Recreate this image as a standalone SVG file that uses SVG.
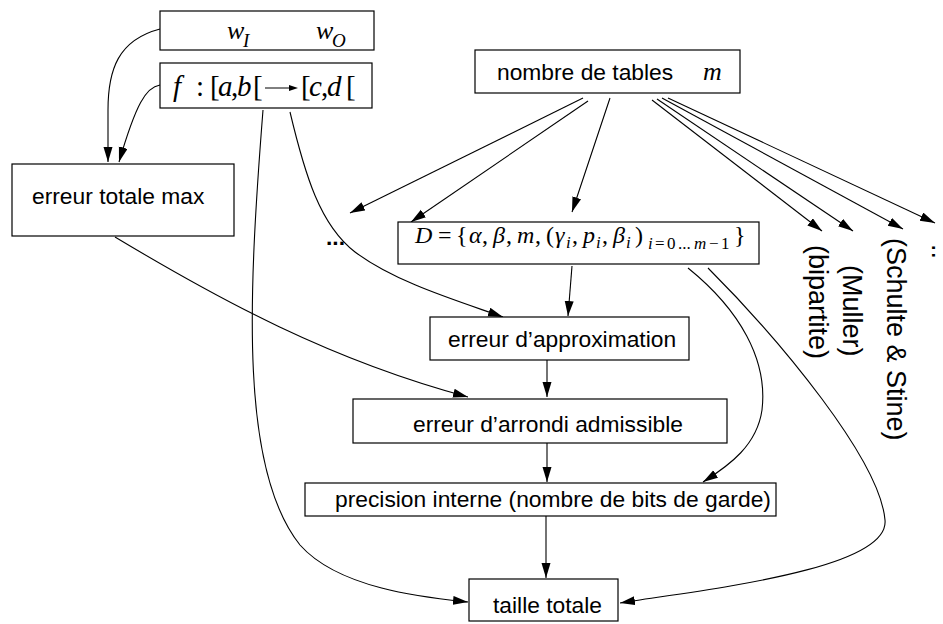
<svg xmlns="http://www.w3.org/2000/svg" width="943" height="624" viewBox="0 0 943 624">
<defs>
<marker id="ah" markerUnits="userSpaceOnUse" markerWidth="16" markerHeight="10" refX="15" refY="4.5" orient="auto">
<path d="M0,0 L15,4.5 L0,9 z" fill="#000"/>
</marker>
<style>
.box{fill:#fff;stroke:#000;stroke-width:1.2}
.lbl{font-family:"Liberation Sans",Arial,sans-serif;font-size:22.8px;fill:#000}
.rot{font-family:"Liberation Sans",Arial,sans-serif;font-size:27px;fill:#000}
.m{font-family:"Liberation Serif","Times New Roman",serif;fill:#000}
.it{font-style:italic}
.s{font-size:17px}
.c{fill:none;stroke:#000;stroke-width:1.1;marker-end:url(#ah)}
</style>
</defs>
<rect width="943" height="624" fill="#fff"/>
<g id="connectors">
<path class="c" d="M160,29 C118,40 108,70 108,110 L108,162"/>
<path class="c" d="M160,85 C146,87 136,104 119,162"/>
<path class="c" d="M115,237 C220,300 330,360 468,397"/>
<path class="c" d="M263,110 C248,300 240,470 300,545 C340,590 430,598 468,602"/>
<path class="c" d="M290,112 C305,175 320,225 355,252 C395,282 455,300 503,317"/>
<path class="c" d="M583,98 L350,213"/>
<path class="c" d="M588,101 L411,222"/>
<path class="c" d="M610,98 L572,212"/>
<path class="c" d="M652,100 L822,231"/>
<path class="c" d="M657,99 L853,231"/>
<path class="c" d="M662,98 L903,229"/>
<path class="c" d="M668,98 L935,223"/>
<path class="c" d="M572,266 L568,316"/>
<path class="c" d="M547,360 L547,397"/>
<path class="c" d="M547,443 L547,482"/>
<path class="c" d="M546,516 L546,578"/>
<path class="c" d="M688,268 C740,310 768,360 762,410 C757,445 730,465 703,482"/>
<path class="c" d="M708,268 C780,340 880,460 885,520 C890,570 700,590 620,603"/>
</g>
<g id="n-w">
<rect class="box" x="160" y="11" width="214" height="39"/>
<text class="m it" x="227" y="39" font-size="26">w</text>
<text class="m it" x="243" y="47" font-size="19">I</text>
<text class="m it" x="316" y="39" font-size="26">w</text>
<text class="m it" x="332" y="47" font-size="19">O</text>
</g>
<g id="n-f">
<rect class="box" x="160" y="63" width="212" height="45"/>
<text class="m" font-size="29" y="96"><tspan class="it" x="173">f</tspan><tspan x="196">:</tspan><tspan x="210">[</tspan><tspan class="it" x="218">a</tspan><tspan x="231">,</tspan><tspan class="it" x="237">b</tspan><tspan x="253">[</tspan></text>
<text class="m" font-size="29" y="96"><tspan x="301">[</tspan><tspan class="it" x="309">c</tspan><tspan x="321">,</tspan><tspan class="it" x="327">d</tspan><tspan x="346">[</tspan></text>
<line x1="265" y1="88" x2="292" y2="88" stroke="#000" stroke-width="1"/>
<path d="M289,85 L298,88 L289,91 z" fill="#000"/>
</g>
<g id="n-tables">
<rect class="box" x="475" y="50" width="265" height="43"/>
<text class="lbl" x="497" y="80">nombre de tables</text>
<text class="m it" x="703" y="80" font-size="26">m</text>
</g>
<g id="n-totale">
<rect class="box" x="12" y="164" width="222" height="72"/>
<text class="lbl" x="32" y="204">erreur totale max</text>
</g>
<g id="n-dots">
<text class="lbl" x="326" y="245" font-weight="bold">...</text>
</g>
<g id="n-D">
<rect class="box" x="398" y="222" width="361" height="42"/>
<text class="m" font-size="24"><tspan class="it" x="415" y="243">D</tspan><tspan x="438" y="243">=</tspan><tspan x="456" y="243">{</tspan><tspan class="it" x="469" y="243">α</tspan><tspan x="482" y="243">,</tspan><tspan class="it" x="493" y="243">β</tspan><tspan x="506" y="243">,</tspan><tspan class="it" x="517" y="243">m</tspan><tspan x="535" y="243">,</tspan><tspan x="546" y="243">(</tspan><tspan class="it" x="555" y="243">γ</tspan><tspan class="it s" x="566" y="248">i</tspan><tspan x="572" y="243">,</tspan><tspan class="it" x="583" y="243">p</tspan><tspan class="it s" x="596" y="248">i</tspan><tspan x="602" y="243">,</tspan><tspan class="it" x="613" y="243">β</tspan><tspan class="it s" x="626" y="248">i</tspan><tspan x="635" y="243">)</tspan><tspan class="it s" x="648" y="249">i</tspan><tspan class="s" x="655" y="249">=</tspan><tspan class="s" x="667" y="249">0</tspan><tspan class="s" x="678" y="249">...</tspan><tspan class="it s" x="694" y="249">m</tspan><tspan class="s" x="709" y="249">−</tspan><tspan class="s" x="721" y="249">1</tspan><tspan x="734" y="243">}</tspan></text>
</g>
<g id="n-bipartite"><text class="rot" transform="translate(809,245) rotate(90)">(bipartite)</text></g>
<g id="n-muller"><text class="rot" transform="translate(843,265) rotate(90)">(Muller)</text></g>
<g id="n-schulte"><text class="rot" transform="translate(887,238) rotate(90)">(Schulte &amp; Stine)</text></g>
<g id="n-etc"><text class="rot" font-size="22" transform="translate(935,259) rotate(-90)">..</text></g>
<g id="n-approx">
<rect class="box" x="430" y="317" width="259" height="43"/>
<text class="lbl" x="448" y="347">erreur d’approximation</text>
</g>
<g id="n-arrondi">
<rect class="box" x="353" y="399" width="374" height="44"/>
<text class="lbl" x="413" y="432">erreur d’arrondi admissible</text>
</g>
<g id="n-precision">
<rect class="box" x="305" y="483" width="471" height="33"/>
<text class="lbl" x="335" y="507">precision interne (nombre de bits de garde)</text>
</g>
<g id="n-taille">
<rect class="box" x="469" y="579" width="149" height="42"/>
<text class="lbl" x="493" y="613">taille totale</text>
</g>
</svg>
